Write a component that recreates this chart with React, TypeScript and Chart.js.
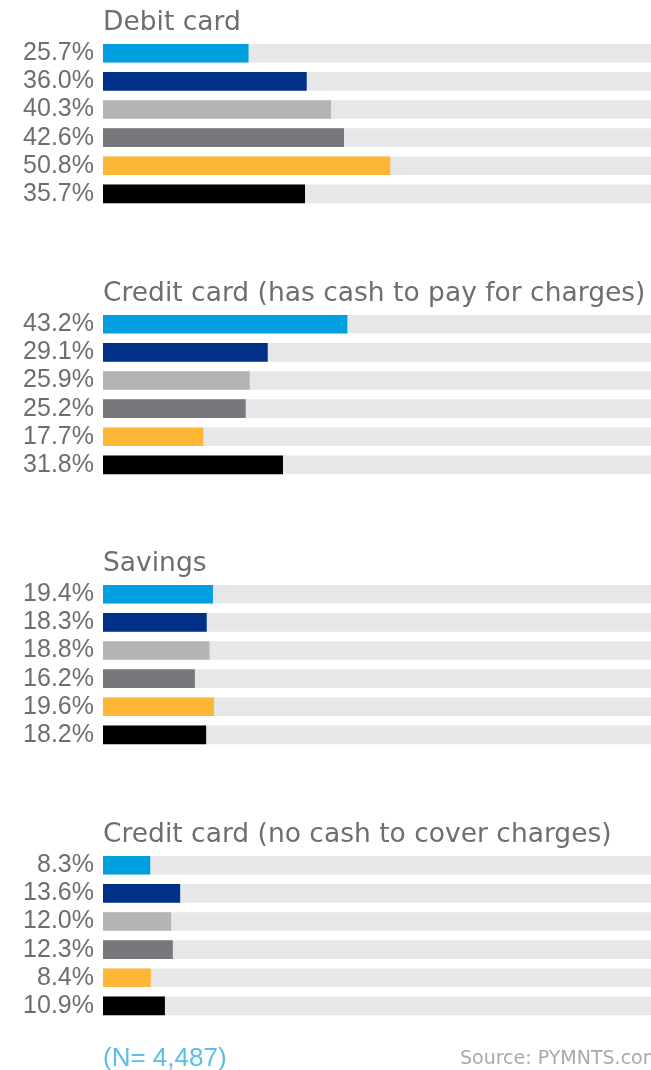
import React, { useEffect, useRef } from "react";
import { Chart, registerables } from "chart.js";

Chart.register(...registerables);

const groupTitles = [
  "Debit card",
  "Credit card (has cash to pay for charges)",
  "Savings",
  "Credit card (no cash to cover charges)",
];
const debitCard = [25.7, 36.0, 40.3, 42.6, 50.8, 35.7];
const creditCardHasCash = [43.2, 29.1, 25.9, 25.2, 17.7, 31.8];
const savings = [19.4, 18.3, 18.8, 16.2, 19.6, 18.2];
const creditCardNoCash = [8.3, 13.6, 12.0, 12.3, 8.4, 10.9];
const groupValues = [debitCard, creditCardHasCash, savings, creditCardNoCash];

const barColors = ["#009fdf", "#003087", "#b3b4b6", "#77787b", "#fdb734", "#000000"];
const TRACK = "#e6e7e8";
const TEXT = "#6d6e71";
const AXIS_MAX = 97;
const sampleNote = "(N= 4,487)";
const sourceNote = "Source: PYMNTS.com";

const GROUP_H = 271;
const groupTops = [0, 271, 541, 812];

function GroupChart({ title, values, top }: { title: string; values: number[]; top: number }) {
  const ref = useRef<HTMLCanvasElement>(null);
  useEffect(() => {
    const chart = new Chart(ref.current!, {
      type: "bar",
      data: {
        labels: values.map((v) => v.toFixed(1) + "%"),
        datasets: [
          {
            data: values,
            backgroundColor: barColors,
            grouped: false,
            order: 0,
            barThickness: 18,
          },
          {
            data: values.map(() => AXIS_MAX),
            backgroundColor: TRACK,
            grouped: false,
            order: 1,
            barThickness: 18,
          },
        ],
      },
      options: {
        indexAxis: "y",
        responsive: false,
        animation: false,
        layout: { padding: { top: 0, bottom: 63, left: 0, right: 0 } },
        plugins: {
          legend: { display: false },
          tooltip: { enabled: false },
          title: {
            display: true,
            text: title,
            align: "start",
            fullSize: false,
            color: TEXT,
            font: { family: "DejaVu Sans", size: 26.5, weight: "normal", lineHeight: 1.1 },
            padding: { top: 9, bottom: 1 },
          },
        },
        scales: {
          x: { display: false, min: 0, max: AXIS_MAX },
          y: {
            afterFit: (s: any) => {
              s.width = 103;
            },
            grid: { display: false, drawTicks: false },
            border: { display: false },
            ticks: {
              autoSkip: false,
              color: TEXT,
              padding: 9,
              font: { family: "Liberation Sans", size: 25 },
            },
          },
        },
      },
    });
    return () => chart.destroy();
  }, []);
  return (
    <div style={{ position: "absolute", left: 0, top, width: 651, height: GROUP_H }}>
      <canvas ref={ref} width={651} height={GROUP_H} style={{ display: "block" }} />
    </div>
  );
}

export default function App() {
  return (
    <div
      style={{
        position: "absolute",
        left: 0,
        top: 0,
        width: 651,
        height: 1070,
        overflow: "hidden",
        background: "#ffffff",
      }}
    >
      {groupTitles.map((t, i) => (
        <GroupChart key={t} title={t} values={groupValues[i]} top={groupTops[i]} />
      ))}
      <div
        style={{
          position: "absolute",
          left: 103,
          top: 1042,
          fontFamily: "Liberation Sans",
          fontSize: 26,
          lineHeight: "30px",
          color: "#5bbde9",
          whiteSpace: "nowrap",
        }}
      >
        {sampleNote}
      </div>
      <div
        style={{
          position: "absolute",
          left: 460,
          top: 1046,
          fontFamily: "DejaVu Sans",
          fontSize: 19,
          lineHeight: "22px",
          color: "#a7a9ac",
          whiteSpace: "nowrap",
        }}
      >
        {sourceNote}
      </div>
    </div>
  );
}
